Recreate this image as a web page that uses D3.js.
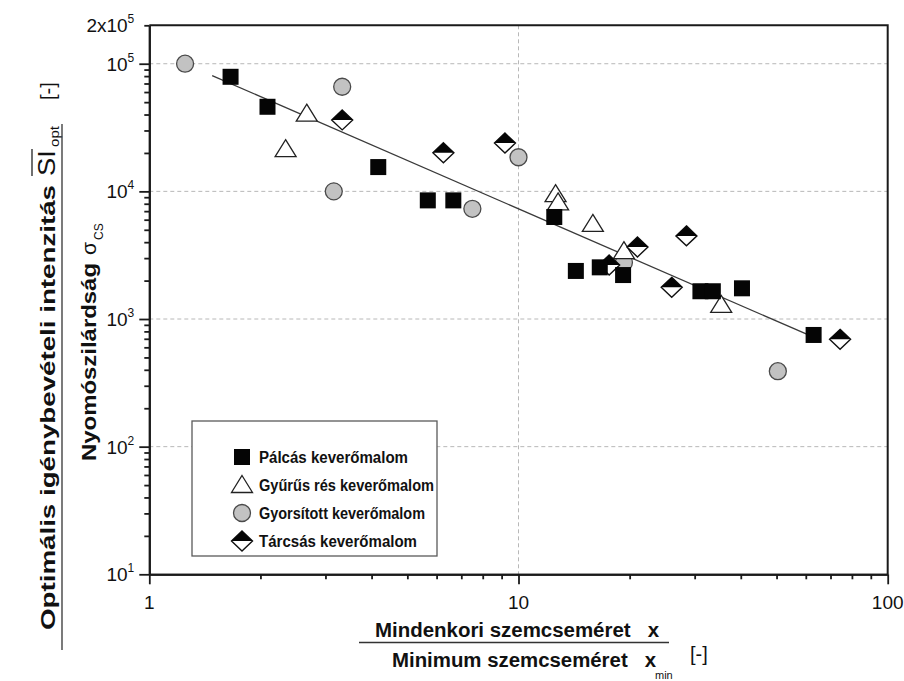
<!DOCTYPE html>
<html>
<head>
<meta charset="utf-8">
<script src="https://cdn.jsdelivr.net/npm/d3@7"></script>
<style>
  body { margin: 0; background: #fff; }
  text { font-family: "Liberation Sans", Arial, sans-serif; fill: #111; white-space: pre; }
</style>
</head>
<body>
<svg id="chart" width="904" height="681"></svg>
<script>
// Pálcás keverőmalom (x/xmin, SI_opt/σCS)
const palcasX = [1.66, 2.09, 4.17, 5.68, 6.66, 12.5, 14.3, 16.6, 19.2, 31.1, 33.6, 40.3, 63];
const palcasY = [79000, 46000, 15500, 8500, 8500, 6300, 2380, 2540, 2210, 1650, 1650, 1740, 750];
// Gyűrűs rés keverőmalom
const gyurusX = [2.34, 2.67, 12.6, 12.8, 15.9, 19.3, 35.4];
const gyurusY = [21400, 40600, 9500, 8200, 5560, 3400, 1290];
// Gyorsított keverőmalom
const gyorsX = [1.25, 3.33, 3.16, 7.5, 10, 19.3, 50.4];
const gyorsY = [100000, 66000, 10000, 7300, 18500, 2770, 390];
// Tárcsás keverőmalom
const tarcsasX = [3.33, 6.26, 9.19, 17.6, 21, 28.5, 26, 74.3];
const tarcsasY = [36300, 20100, 23900, 2650, 3670, 4480, 1770, 693];
// fitted power-law line, end points
const fitX = [1.48, 61];
const fitY = [80800, 750];

const xTicks = [1, 10, 100];
const xTickLabels = ["1", "10", "100"];
const yTicks = [1e1, 1e2, 1e3, 1e4, 1e5];
const yExponents = ["1", "2", "3", "4", "5"];
const yGrid = [1e2, 1e3, 1e4, 1e5];
const xGrid = [10];
const seriesNames = ["Pálcás keverőmalom", "Gyűrűs rés keverőmalom", "Gyorsított keverőmalom", "Tárcsás keverőmalom"];
const legendWidths = [149, 175, 166, 158];

const svg = d3.select("#chart");
const L = 149.3, R = 887.7, T = 25.3, B = 574.3;
const x = d3.scaleLog().domain([1, 100]).range([L, R]);
const y = d3.scaleLog().domain([10, 2e5]).range([B, T]);

// grid
const grid = svg.append("g").attr("stroke", "#b8b8b8").attr("stroke-width", 1).attr("stroke-dasharray", "4,3");
grid.selectAll("line.h").data(yGrid).join("line").attr("class", "h")
  .attr("x1", L).attr("x2", R).attr("y1", d => y(d)).attr("y2", d => y(d));
grid.selectAll("line.v").data(xGrid).join("line").attr("class", "v")
  .attr("y1", T).attr("y2", B).attr("x1", d => x(d)).attr("x2", d => x(d));

// minor tick values
const xMinor = [];
for (let k = 0; k < 2; k++) for (let m = 2; m <= 9; m++) xMinor.push(m * Math.pow(10, k));
const yMinor = [];
for (let k = 1; k < 5; k++) for (let m = 2; m <= 9; m++) yMinor.push(m * Math.pow(10, k));
yMinor.push(2e5);

function styleAxis(g) {
  g.selectAll("path.domain").attr("stroke", "#1a1a1a").attr("stroke-width", 2);
  g.selectAll(".tick line").attr("stroke", "#1a1a1a").attr("stroke-width", 1.8);
  g.selectAll(".tick text").remove();
}

svg.append("g").attr("transform", `translate(0,${B})`)
  .call(d3.axisBottom(x).tickValues(xMinor).tickSize(5).tickSizeOuter(0)).call(styleAxis);
svg.append("g").attr("transform", `translate(0,${B})`)
  .call(d3.axisBottom(x).tickValues(xTicks).tickSize(10).tickSizeOuter(0)).call(styleAxis);
svg.append("g").attr("transform", `translate(${L},0)`)
  .call(d3.axisLeft(y).tickValues(yMinor).tickSize(5).tickSizeOuter(0)).call(styleAxis);
svg.append("g").attr("transform", `translate(${L},0)`)
  .call(d3.axisLeft(y).tickValues(yTicks).tickSize(10).tickSizeOuter(0)).call(styleAxis);

// top and right frame
svg.append("path").attr("d", `M${L},${T}H${R}V${B}`).attr("fill", "none")
  .attr("stroke", "#1a1a1a").attr("stroke-width", 2);

// x tick labels
svg.append("g").selectAll("text").data(xTicks).join("text")
  .attr("x", d => x(d)).attr("y", B + 35).attr("text-anchor", "middle")
  .attr("font-size", 19).text((d, i) => xTickLabels[i]);

// y tick labels with exponents
const yl = svg.append("g").selectAll("text").data(yTicks).join("text")
  .attr("x", L - 15).attr("y", d => y(d) + 7).attr("text-anchor", "end").attr("font-size", 19);
yl.append("tspan").text("10");
yl.append("tspan").attr("font-size", 12).attr("dy", -9).text((d, i) => yExponents[i]);
const topLab = svg.append("text").attr("x", L - 15).attr("y", y(2e5) + 7)
  .attr("text-anchor", "end").attr("font-size", 19);
topLab.append("tspan").text("2x10");
topLab.append("tspan").attr("font-size", 12).attr("dy", -9).text("5");

// fitted line
svg.append("line")
  .attr("x1", x(fitX[0])).attr("y1", y(fitY[0]))
  .attr("x2", x(fitX[1])).attr("y2", y(fitY[1]))
  .attr("stroke", "#3a3a3a").attr("stroke-width", 1.3);

// marker painters
function drawSquare(g) {
  g.append("rect").attr("x", -8).attr("y", -8).attr("width", 16).attr("height", 16)
    .attr("fill", "#050505");
}
function drawTriangle(g) {
  g.append("path").attr("d", "M0,-9.5L10.5,7.5L-10.5,7.5Z")
    .attr("fill", "#fff").attr("stroke", "#222").attr("stroke-width", 1.3);
}
function drawCircle(g) {
  g.append("circle").attr("r", 8.5).attr("fill", "#c2c2c2")
    .attr("stroke", "#4a4a4a").attr("stroke-width", 1.3);
}
function drawDiamond(g) {
  g.append("path").attr("d", "M0,-10L10.5,0L0,10L-10.5,0Z")
    .attr("fill", "#fff").attr("stroke", "#111").attr("stroke-width", 1.4);
  g.append("path").attr("d", "M0,-10L10.5,0L-10.5,0Z").attr("fill", "#050505");
}

const series = [
  { xs: gyorsX, ys: gyorsY, draw: drawCircle },
  { xs: gyurusX, ys: gyurusY, draw: drawTriangle },
  { xs: tarcsasX, ys: tarcsasY, draw: drawDiamond },
  { xs: palcasX, ys: palcasY, draw: drawSquare }
];
series.forEach(s => {
  const pts = s.xs.map((v, i) => [v, s.ys[i]]);
  svg.append("g").selectAll("g").data(pts).join("g")
    .attr("transform", d => `translate(${x(d[0])},${y(d[1])})`)
    .each(function () { s.draw(d3.select(this)); });
});

// legend
const legend = svg.append("g");
legend.append("rect").attr("x", 192).attr("y", 421).attr("width", 245).attr("height", 135)
  .attr("fill", "#fff").attr("stroke", "#5a5a5a").attr("stroke-width", 1.3);
const legendDraw = [drawSquare, drawTriangle, drawCircle, drawDiamond];
const rowY = d3.scalePoint().domain(seriesNames).range([457, 541]);
seriesNames.forEach((name, i) => {
  const g = legend.append("g").attr("transform", `translate(242,${rowY(name)})`);
  legendDraw[i](g);
  legend.append("text").attr("x", 259).attr("y", rowY(name) + 6)
    .attr("font-size", 16).attr("font-weight", "bold")
    .attr("textLength", legendWidths[i]).attr("lengthAdjust", "spacingAndGlyphs").text(name);
});

// x axis title (fraction)
const xt = svg.append("g").attr("font-weight", "bold");
xt.append("text").attr("x", 375).attr("y", 637).attr("font-size", 20)
  .attr("textLength", 284).attr("lengthAdjust", "spacingAndGlyphs").text("Mindenkori szemcseméret   x");
xt.append("line").attr("x1", 359).attr("x2", 669).attr("y1", 642.5).attr("y2", 642.5)
  .attr("stroke", "#333").attr("stroke-width", 1.3);
xt.append("text").attr("x", 392).attr("y", 667).attr("font-size", 20)
  .attr("textLength", 264).attr("lengthAdjust", "spacingAndGlyphs").text("Minimum szemcseméret   x");
xt.append("text").attr("x", 655).attr("y", 679).attr("font-size", 11).attr("font-weight", "normal").text("min");
xt.append("text").attr("x", 690).attr("y", 661).attr("font-size", 20).attr("font-weight", "normal").text("[-]");

// y axis title (fraction, rotated)
const yt = svg.append("g").attr("font-weight", "bold");
yt.append("text").attr("transform", "translate(55,630) rotate(-90)").attr("font-size", 20)
  .attr("textLength", 445).attr("lengthAdjust", "spacingAndGlyphs")
  .text("Optimális igénybevételi intenzitás");
yt.append("text").attr("transform", "translate(55,176) rotate(-90)").attr("font-size", 23)
  .attr("font-weight", "normal")
  .attr("textLength", 26).attr("lengthAdjust", "spacingAndGlyphs").text("SI");
yt.append("line").attr("x1", 32).attr("x2", 32).attr("y1", 176).attr("y2", 149)
  .attr("stroke", "#222").attr("stroke-width", 1.3);
yt.append("text").attr("transform", "translate(59,147) rotate(-90)").attr("font-size", 12)
  .attr("font-weight", "normal")
  .attr("textLength", 21).attr("lengthAdjust", "spacingAndGlyphs").text("opt");
yt.append("text").attr("transform", "translate(55,100) rotate(-90)").attr("font-size", 20)
  .attr("font-weight", "normal").text("[-]");
yt.append("line").attr("x1", 62).attr("x2", 62).attr("y1", 124).attr("y2", 650)
  .attr("stroke", "#333").attr("stroke-width", 1.3);
yt.append("text").attr("transform", "translate(96,461) rotate(-90)").attr("font-size", 20)
  .attr("textLength", 198).attr("lengthAdjust", "spacingAndGlyphs").text("Nyomószilárdság");
yt.append("text").attr("transform", "translate(96,255) rotate(-90)").attr("font-size", 21)
  .attr("font-weight", "normal").text("σ");
yt.append("text").attr("transform", "translate(103,240) rotate(-90)").attr("font-size", 12)
  .attr("font-weight", "normal").text("CS");
</script>
</body>
</html>
